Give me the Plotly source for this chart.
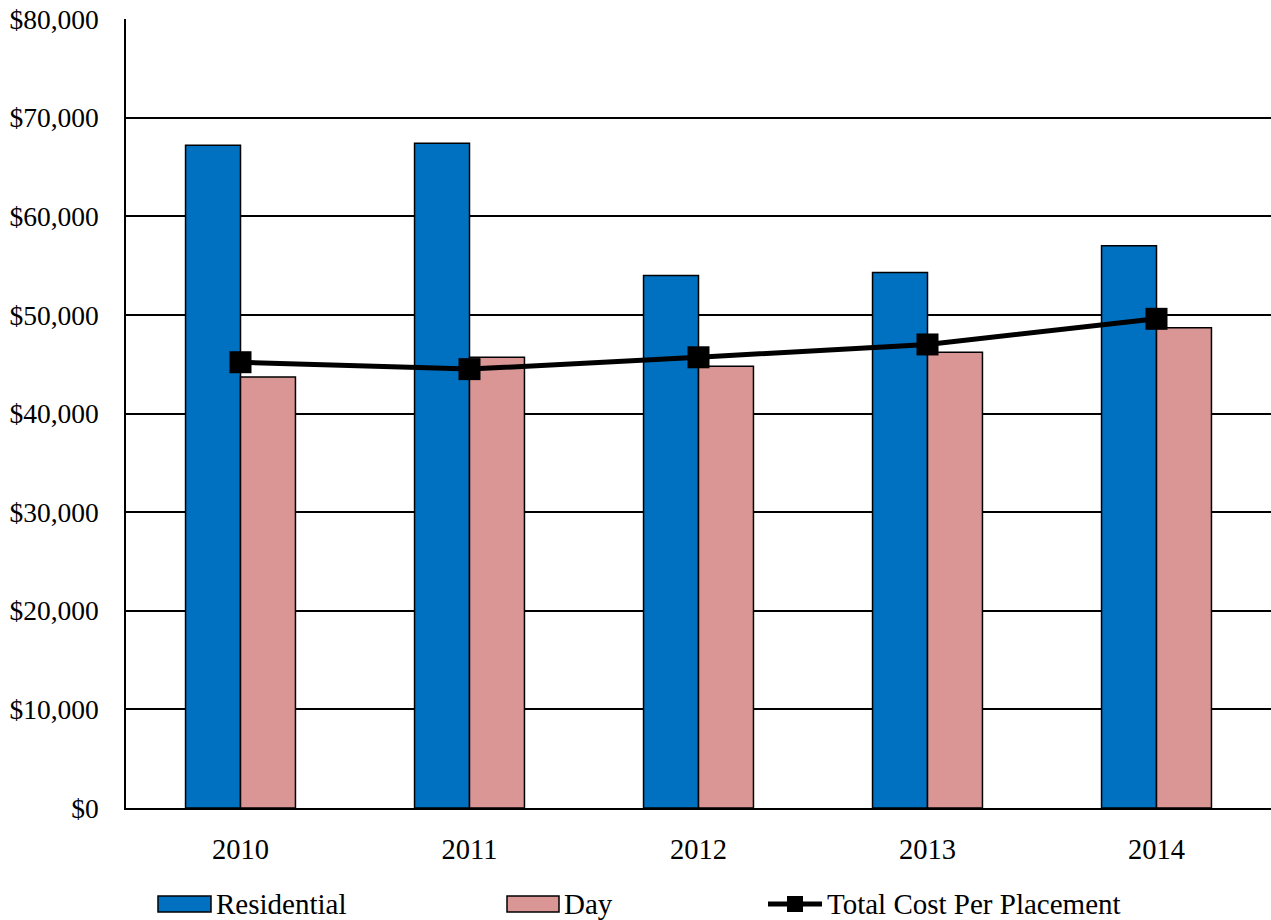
import plotly.graph_objects as go

years = ["2010", "2011", "2012", "2013", "2014"]
residential = [67200, 67400, 54000, 54300, 57000]
day = [43700, 45700, 44800, 46200, 48700]
total_cost = [45200, 44500, 45700, 47000, 49600]

BLUE = "#0070C0"
PINK = "#D99694"
FONT = "Liberation Serif, Times New Roman, serif"

fig = go.Figure()
fig.add_trace(go.Bar(x=years, y=residential, name="Residential",
                     marker=dict(color=BLUE, line=dict(color="black", width=1.5))))
fig.add_trace(go.Bar(x=years, y=day, name="Day",
                     marker=dict(color=PINK, line=dict(color="black", width=1.5))))
fig.add_trace(go.Scatter(x=years, y=total_cost, name="Total Cost Per Placement",
                         mode="lines+markers",
                         line=dict(color="black", width=5),
                         marker=dict(symbol="square", size=22, color="black")))

W, H = 1271, 920
L, R, T, B = 126, 0, 19, 112
pw, ph = W - L - R, H - T - B


def px_x(x):
    return (x - L) / pw


def px_y(y):
    return (H - B - y) / ph


# Legend drawn below the plot
shapes = []
annotations = []
ly = 904
for x0, x1, col, label in [(158, 211, BLUE, "Residential"), (507, 559, PINK, "Day")]:
    shapes.append(dict(type="rect", xref="paper", yref="paper",
                       x0=px_x(x0), x1=px_x(x1), y0=px_y(ly + 8), y1=px_y(ly - 8),
                       fillcolor=col, line=dict(color="black", width=1.5)))
    annotations.append(dict(xref="paper", yref="paper", x=px_x(x1 + 3), y=px_y(ly),
                            text=label, showarrow=False, xanchor="left", yanchor="middle",
                            font=dict(family=FONT, size=29, color="black")))
shapes.append(dict(type="line", xref="paper", yref="paper",
                   x0=px_x(768), x1=px_x(822), y0=px_y(ly), y1=px_y(ly),
                   line=dict(color="black", width=5)))
shapes.append(dict(type="rect", xref="paper", yref="paper",
                   x0=px_x(787), x1=px_x(803), y0=px_y(ly + 8), y1=px_y(ly - 8),
                   fillcolor="black", line=dict(color="black", width=0)))
annotations.append(dict(xref="paper", yref="paper", x=px_x(825), y=px_y(ly),
                        text="Total Cost Per Placement", showarrow=False,
                        xanchor="left", yanchor="middle",
                        font=dict(family=FONT, size=29, color="black")))

fig.update_layout(
    width=W, height=H,
    margin=dict(l=L, r=R, t=T, b=B),
    paper_bgcolor="white", plot_bgcolor="white",
    font=dict(family=FONT, size=27, color="black"),
    barmode="group", bargap=0.52, bargroupgap=0,
    showlegend=False,
    shapes=shapes, annotations=annotations,
)
fig.update_xaxes(showgrid=False, showline=True, linecolor="black", linewidth=1.5,
                 ticks="", ticklabelstandoff=15, tickfont=dict(size=28.5))
fig.update_yaxes(range=[0, 80000], dtick=10000, tickprefix="$", tickformat=",d",
                 showgrid=True, gridcolor="black", gridwidth=1.5,
                 showline=True, linecolor="black", linewidth=1.5,
                 zeroline=False,
                 ticks="", ticklabelstandoff=20, tickfont=dict(size=27.5))

fig.write_html("out.html")
